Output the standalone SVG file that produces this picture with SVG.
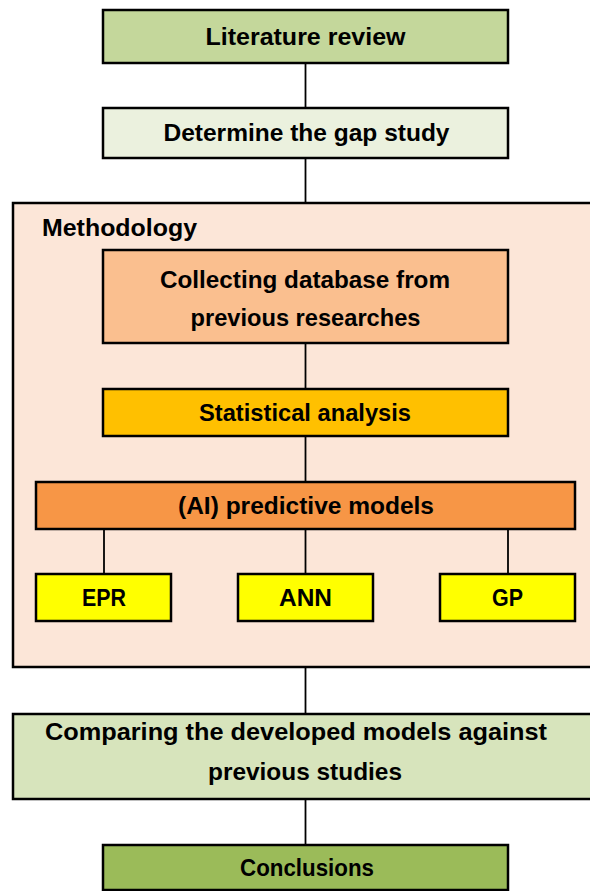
<svg xmlns="http://www.w3.org/2000/svg" width="590" height="891" viewBox="0 0 590 891">
<style>
.box{stroke:#000;stroke-width:2.5}
.t{font-family:"Liberation Sans",Arial,sans-serif;font-weight:bold;font-size:24px;fill:#000;text-anchor:middle}
.conn line{stroke:#000;stroke-width:1.8}
</style>
<rect width="590" height="891" fill="#fff"/>
<g id="methodology">
<rect class="box" x="13" y="203" width="590" height="464" fill="#FCE6D8"/>
<text class="t" x="42" y="236" style="text-anchor:start" textLength="155" lengthAdjust="spacingAndGlyphs">Methodology</text>
</g>
<g class="conn" id="connectors">
<line x1="305.5" y1="63" x2="305.5" y2="108"/>
<line x1="305.5" y1="158" x2="305.5" y2="203"/>
<line x1="305.5" y1="343" x2="305.5" y2="389"/>
<line x1="305.5" y1="436" x2="305.5" y2="482"/>
<line x1="104" y1="529" x2="104" y2="574"/>
<line x1="305.5" y1="529" x2="305.5" y2="574"/>
<line x1="508" y1="529" x2="508" y2="574"/>
<line x1="305.5" y1="667" x2="305.5" y2="714"/>
<line x1="305.5" y1="799" x2="305.5" y2="845"/>
</g>
<g id="literature">
<rect class="box" x="103" y="10" width="405" height="53" fill="#C4D79B"/>
<text class="t" x="305.5" y="45" textLength="200" lengthAdjust="spacingAndGlyphs">Literature review</text>
</g>
<g id="gap">
<rect class="box" x="103" y="108" width="405" height="50" fill="#EBF1DE"/>
<text class="t" x="306.5" y="141" textLength="286" lengthAdjust="spacingAndGlyphs">Determine the gap study</text>
</g>
<g id="collecting">
<rect class="box" x="103" y="250" width="405" height="93" fill="#FABF8F"/>
<text class="t" x="305" y="288" textLength="290" lengthAdjust="spacingAndGlyphs">Collecting database from</text>
<text class="t" x="305.5" y="326" textLength="230" lengthAdjust="spacingAndGlyphs">previous researches</text>
</g>
<g id="statistical">
<rect class="box" x="103" y="389" width="405" height="47" fill="#FFC000"/>
<text class="t" x="305" y="421" textLength="212" lengthAdjust="spacingAndGlyphs">Statistical analysis</text>
</g>
<g id="ai">
<rect class="box" x="36" y="482" width="539" height="47" fill="#F79646"/>
<text class="t" x="306" y="514" textLength="256" lengthAdjust="spacingAndGlyphs">(AI) predictive models</text>
</g>
<g id="epr">
<rect class="box" x="36" y="574" width="135" height="47" fill="#FFFF00"/>
<text class="t" x="104" y="606" textLength="44" lengthAdjust="spacingAndGlyphs">EPR</text>
</g>
<g id="ann">
<rect class="box" x="238" y="574" width="135" height="47" fill="#FFFF00"/>
<text class="t" x="305.5" y="606" textLength="53" lengthAdjust="spacingAndGlyphs">ANN</text>
</g>
<g id="gp">
<rect class="box" x="440" y="574" width="135" height="47" fill="#FFFF00"/>
<text class="t" x="507.5" y="606" textLength="31" lengthAdjust="spacingAndGlyphs">GP</text>
</g>
<g id="comparing">
<rect class="box" x="13" y="714" width="590" height="85" fill="#D7E4BC"/>
<text class="t" x="296" y="740" textLength="502" lengthAdjust="spacingAndGlyphs">Comparing the developed models against</text>
<text class="t" x="305" y="780" textLength="194" lengthAdjust="spacingAndGlyphs">previous studies</text>
</g>
<g id="conclusions">
<rect class="box" x="103" y="845" width="405" height="45" fill="#9BBB59"/>
<text class="t" x="307" y="876" textLength="134" lengthAdjust="spacingAndGlyphs">Conclusions</text>
</g>
</svg>
